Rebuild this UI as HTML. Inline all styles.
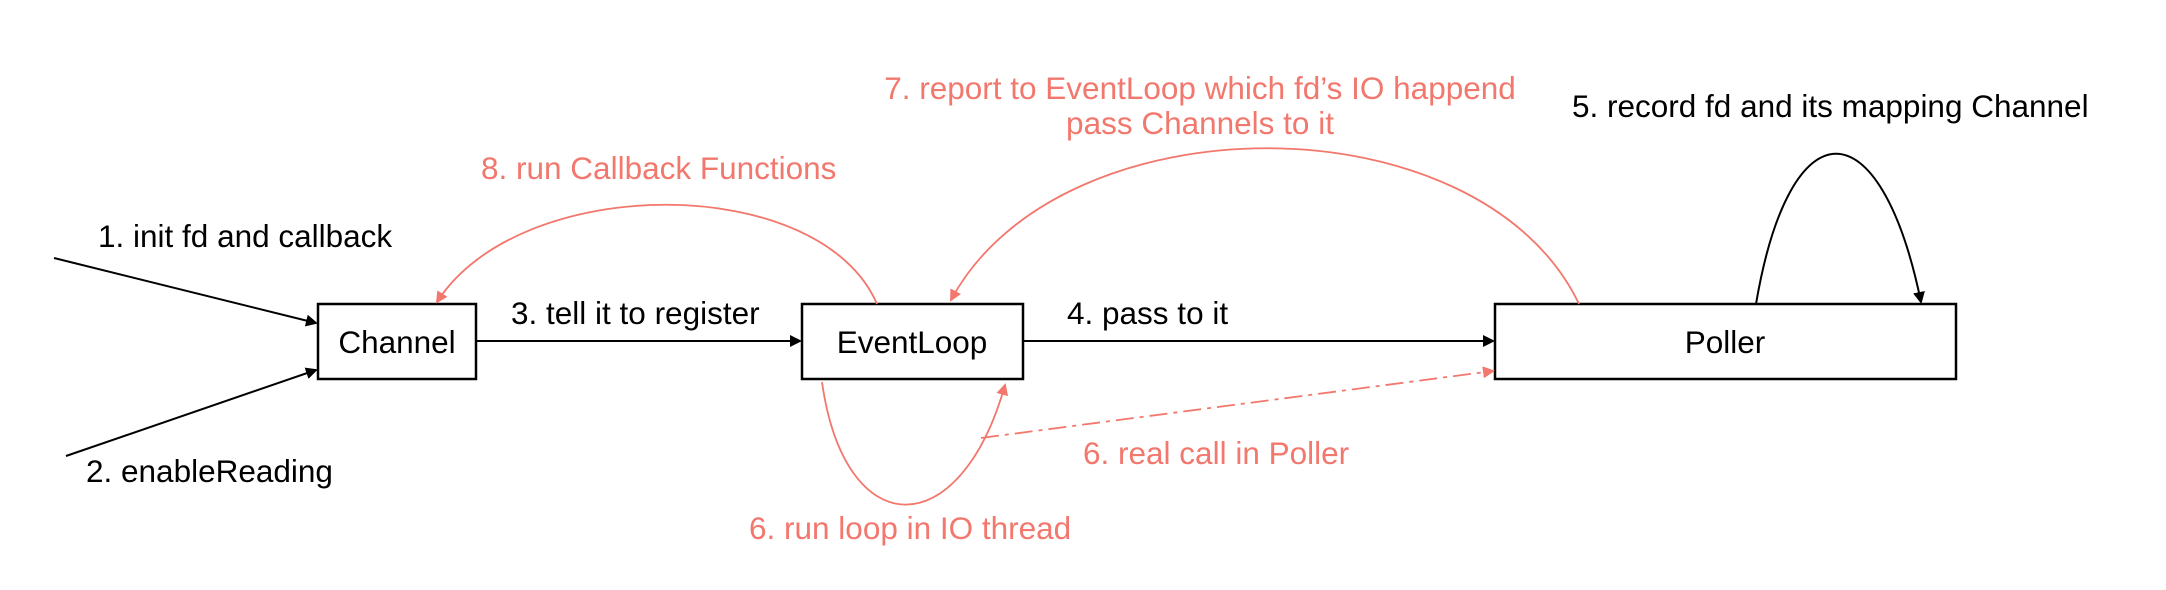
<!DOCTYPE html>
<html><head><meta charset="utf-8"><style>
html,body{margin:0;padding:0;background:#fff;}
svg{display:block;}
text{font-family:"Liberation Sans",Arial,sans-serif;font-size:31.5px;}
.r{fill:#f2776d;}
</style></head><body>
<svg width="2166" height="590" viewBox="0 0 2166 590" xmlns="http://www.w3.org/2000/svg">
<defs>
<marker id="ab" markerWidth="12" markerHeight="12" refX="10" refY="6" orient="auto" markerUnits="userSpaceOnUse" viewBox="0 0 12 12"><path d="M0,0 L12,6 L0,12 Z" fill="#000"/></marker>
<marker id="ar" markerWidth="12" markerHeight="12" refX="10" refY="6" orient="auto" markerUnits="userSpaceOnUse" viewBox="0 0 12 12"><path d="M0,0 L12,6 L0,12 Z" fill="#f2776d"/></marker>
</defs>
<g fill="#fff" stroke="#000" stroke-width="2.5">
<rect x="318" y="304" width="158" height="75"/>
<rect x="802" y="304" width="221" height="75"/>
<rect x="1495" y="304" width="461" height="75"/>
</g>
<g fill="none" stroke="#000" stroke-width="2">
<line x1="54" y1="258" x2="316" y2="323" marker-end="url(#ab)"/>
<line x1="66" y1="456" x2="316" y2="370" marker-end="url(#ab)"/>
<line x1="477" y1="341" x2="800" y2="341" marker-end="url(#ab)"/>
<line x1="1024" y1="341" x2="1493" y2="341" marker-end="url(#ab)"/>
<path d="M1756,304 C1790,104 1880,104 1921,302" marker-end="url(#ab)"/>
</g>
<g fill="none" stroke="#f2776d" stroke-width="1.8">
<path d="M877,304 C820,172 520,172 437,302" marker-end="url(#ar)"/>
<path d="M1579,304 C1480,97 1060,97 951,300" marker-end="url(#ar)"/>
<path d="M822,382 C845,545 960,545 1005,385" marker-end="url(#ar)"/>
<line x1="981" y1="438" x2="1493" y2="371" stroke-dasharray="18,6,4,6" marker-end="url(#ar)"/>
</g>
<g text-anchor="middle">
<text x="397" y="353">Channel</text>
<text x="912" y="353">EventLoop</text>
<text x="1725" y="353">Poller</text>
<text class="r" x="1200" y="99">7. report to EventLoop which fd’s IO happend</text>
<text class="r" x="1200" y="134">pass Channels to it</text>
</g>
<text x="98" y="247">1. init fd and callback</text>
<text x="86" y="482">2. enableReading</text>
<text class="r" x="481" y="179">8. run  Callback Functions</text>
<text x="511" y="324">3. tell it to register</text>
<text x="1067" y="324">4. pass to it</text>
<text x="1572" y="117">5. record fd and its mapping Channel</text>
<text class="r" x="1083" y="464">6. real call in Poller</text>
<text class="r" x="749" y="539">6. run loop in IO thread</text>
</svg>
</body></html>
